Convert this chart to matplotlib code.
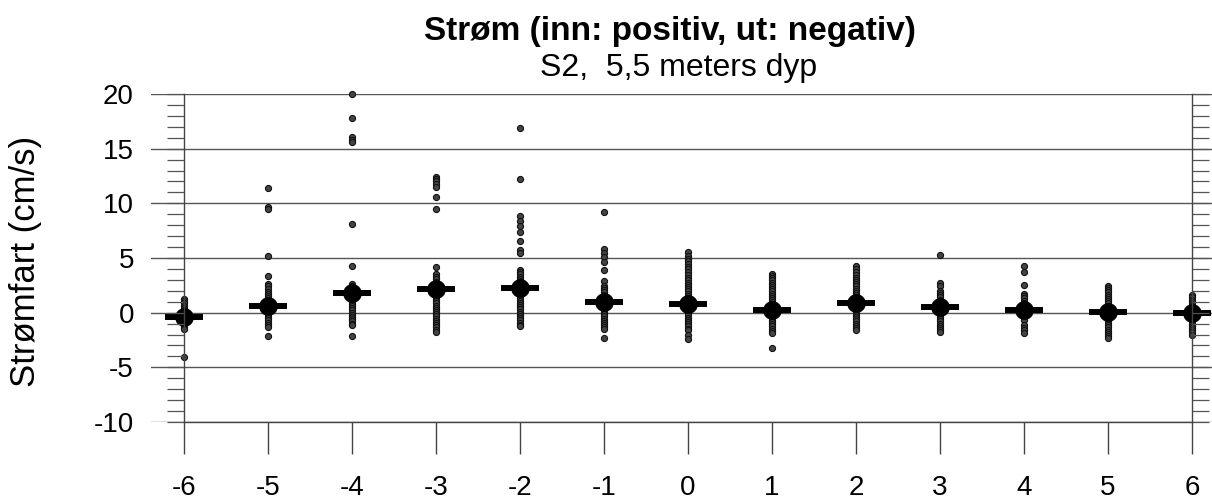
import matplotlib
matplotlib.use("Agg")
import matplotlib.pyplot as plt
from matplotlib.ticker import MultipleLocator

plt.rcParams['font.family'] = ['Liberation Sans', 'DejaVu Sans']

# Retning / kategori (x-akse)
kategorier = [-6, -5, -4, -3, -2, -1, 0, 1, 2, 3, 4, 5, 6]

# Enkeltmålinger av strømfart (cm/s) per kategori, lest av figuren
m6 = [1.25, 1.05, 0.85, 0.65, 0.45, 0.25, 0.05, -0.15, -0.35, -0.55, -0.75,
      -0.95, -1.15, -1.35, -1.5, -4.1]
m5 = [11.4, 9.7, 9.5, 5.2, 3.35, 2.6, 2.4, 2.15, 1.9, 1.7, 1.5, 1.3, 1.1, 0.9,
      0.7, 0.5, 0.3, 0.1, -0.1, -0.3, -0.5, -0.7, -0.9, -1.1, -1.3, -2.1]
m4 = [20.0, 17.8, 16.05, 15.8, 15.6, 8.1, 4.3, 2.6, 2.4, 2.2, 2.0, 1.8, 1.6,
      1.4, 1.2, 1.0, 0.8, 0.6, 0.4, 0.2, 0.0, -0.2, -0.4, -0.6, -0.8, -1.0,
      -1.15, -2.1]
m3 = [12.4, 12.2, 12.0, 11.75, 11.5, 10.55, 9.45, 4.15, 3.55, 3.3, 3.05, 2.85,
      2.65, 2.45, 2.25, 2.05, 1.85, 1.65, 1.45, 1.25, 1.05, 0.85, 0.65, 0.45,
      0.25, 0.05, -0.15, -0.35, -0.55, -0.75, -0.95, -1.15, -1.35, -1.55, -1.75]
m2 = [16.9, 12.2, 8.85, 8.4, 7.9, 7.35, 6.55, 5.7, 5.45, 3.9, 3.7, 3.5, 3.3,
      3.1, 2.9, 2.7, 2.5, 2.3, 2.1, 1.9, 1.7, 1.5, 1.3, 1.1, 0.9, 0.7, 0.5,
      0.3, 0.1, -0.1, -0.3, -0.5, -0.7, -0.9, -1.1, -1.25]
m1 = [9.2, 5.85, 5.45, 5.05, 4.65, 3.9, 2.9, 2.45, 2.25, 2.05, 1.85, 1.65,
      1.45, 1.25, 1.05, 0.85, 0.65, 0.45, 0.25, 0.05, -0.15, -0.35, -0.55,
      -0.75, -0.95, -1.15, -1.35, -1.5, -2.3]
p0 = [5.55, 5.2, 4.95, 4.7, 4.45, 4.2, 3.95, 3.7, 3.45, 3.2, 2.95, 2.75, 2.55,
      2.35, 2.15, 1.95, 1.75, 1.55, 1.35, 1.15, 0.95, 0.75, 0.55, 0.35, 0.15,
      -0.05, -0.25, -0.45, -0.65, -0.85, -1.05, -1.25, -1.45, -1.6, -2.0, -2.4]
p1 = [3.55, 3.35, 3.15, 2.95, 2.75, 2.55, 2.35, 2.15, 1.95, 1.75, 1.55, 1.35,
      1.15, 0.95, 0.75, 0.55, 0.35, 0.15, -0.05, -0.25, -0.45, -0.65, -0.85,
      -1.05, -1.25, -1.45, -1.65, -1.85, -3.25]
p2 = [4.25, 3.95, 3.7, 3.45, 3.2, 3.0, 2.8, 2.6, 2.4, 2.2, 2.0, 1.8, 1.6, 1.4,
      1.2, 1.0, 0.8, 0.6, 0.4, 0.2, 0.0, -0.2, -0.4, -0.6, -0.8, -1.0, -1.2,
      -1.4, -1.6]
p3 = [5.3, 2.75, 2.45, 2.0, 1.8, 1.6, 1.4, 1.2, 1.0, 0.8, 0.6, 0.4, 0.2, 0.0,
      -0.2, -0.4, -0.6, -0.8, -1.0, -1.2, -1.4, -1.6, -1.75]
p4 = [4.3, 3.7, 2.55, 1.7, 1.5, 1.3, 1.1, 0.9, 0.7, 0.5, 0.3, 0.1, -0.1, -0.3,
      -0.5, -0.7, -1.1, -1.4, -1.6, -1.85]
p5 = [2.45, 2.25, 2.05, 1.85, 1.65, 1.45, 1.25, 1.05, 0.85, 0.65, 0.45, 0.25,
      0.05, -0.15, -0.35, -0.55, -0.75, -0.95, -1.15, -1.35, -1.55, -1.75,
      -1.95, -2.15, -2.35]
p6 = [1.6, 1.4, 1.2, 1.0, 0.8, 0.6, 0.4, 0.2, 0.0, -0.2, -0.4, -0.6, -0.8,
      -1.0, -1.2, -1.4, -1.6, -1.8, -2.0]
maalinger = [m6, m5, m4, m3, m2, m1, p0, p1, p2, p3, p4, p5, p6]

# Middelverdi per kategori
middel = [-0.4, 0.65, 1.8, 2.2, 2.3, 1.0, 0.8, 0.2, 0.9, 0.5, 0.25, 0.05, -0.05]

y_ticks = [-10, -5, 0, 5, 10, 15, 20]

W, H = 1212, 500
fig = plt.figure(figsize=(W / 100, H / 100), dpi=100)
bunn, topp = 1 - 422 / H, 1 - 94 / H

# bred akse: data + horisontale gitterlinjer
ax = fig.add_axes([151 / W, bunn, 1 - 151 / W, topp - bunn])
ax.set_xlim(-6.39, 6.24)
ax.set_ylim(-10, 20)
for s in ax.spines.values():
    s.set_visible(False)
ax.set_xticks([])
ax.set_yticks(y_ticks)
ax.tick_params(left=False, labelleft=False)
ax.grid(axis='y', color='#555555', lw=1.0)
ax.set_axisbelow(True)

for k, verdier in zip(kategorier, maalinger):
    ax.plot([k] * len(verdier), verdier, ls='none', marker='o', ms=4.4,
            mfc='#444444', mec='#111111', mew=0.8, clip_on=False, zorder=3)
ax.plot(kategorier, middel, ls='none', marker='_', ms=28, mew=4.3,
        color='black', clip_on=False, zorder=4)
ax.plot(kategorier, middel, ls='none', marker='o', ms=12.5,
        color='black', clip_on=False, zorder=5)

# smal akse: rammelinjer ved -6 og 6, tikker
ax2 = fig.add_axes([184 / W, bunn, 1008 / W, topp - bunn])
ax2.patch.set_visible(False)
ax2.set_xlim(-6, 6)
ax2.set_ylim(-10, 20)
ax2.spines['top'].set_visible(False)
for side in ['left', 'right', 'bottom']:
    ax2.spines[side].set_color('#444444')
    ax2.spines[side].set_linewidth(1.0)
ax2.set_xticks(kategorier)
ax2.set_xticklabels([str(k) for k in kategorier])
ax2.set_yticks(y_ticks)
ax2.set_yticklabels([str(v) for v in y_ticks])
ax2.yaxis.set_minor_locator(MultipleLocator(1))
ax2.tick_params(axis='x', direction='out', length=23, width=1.0,
                color='#444444', labelsize=20, pad=15)
ax2.tick_params(axis='y', which='both', direction='out', left=True,
                right=True, length=12, width=0.9, color='#555555',
                labelsize=20, pad=24)

fig.text(26 / W, 1 - 261 / H, 'Strømfart (cm/s)', rotation=90,
         ha='center', va='center', fontsize=25)
fig.text(670 / W, 1 - 40 / H, 'Strøm (inn: positiv, ut: negativ)',
         ha='center', va='baseline', fontsize=24, fontweight='bold')
fig.text(679 / W, 1 - 76 / H, 'S2,  5,5 meters dyp',
         ha='center', va='baseline', fontsize=23)

fig.savefig('out.png', dpi=100)
